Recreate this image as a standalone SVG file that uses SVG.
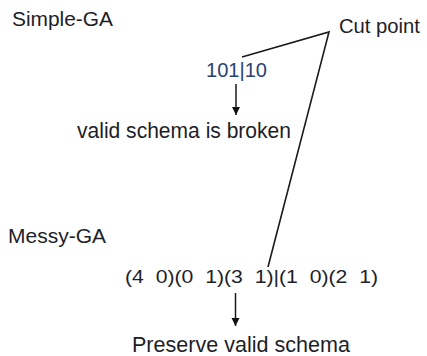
<svg xmlns="http://www.w3.org/2000/svg" width="427" height="356" viewBox="0 0 427 356">
  <style>
    .t { font-family: "Liberation Sans", Arial, sans-serif; fill: #1e1e28; }
    .blue { fill: #2a4170; }
    .ln { stroke: #1a1a1a; stroke-width: 1.6; fill: none; }
    .ar { stroke: #1a1a1a; stroke-width: 1.5; fill: none; }
  </style>
  <defs>
    <marker id="ah" viewBox="0 0 8 10" refX="8" refY="5" markerWidth="8" markerHeight="10" markerUnits="userSpaceOnUse" orient="auto">
      <path d="M0,1 L8,5 L0,9 Z" fill="#111"/>
    </marker>
  </defs>
  <rect width="427" height="356" fill="#ffffff"/>

  <g id="simple-ga-label">
    <text class="t" x="12" y="26" font-size="20" textLength="101" lengthAdjust="spacingAndGlyphs">Simple-GA</text>
  </g>
  <g id="cut-point">
    <text class="t" x="339" y="33" font-size="20" textLength="81" lengthAdjust="spacingAndGlyphs">Cut point</text>
  </g>
  <g id="simple-string">
    <text class="t blue" x="206" y="77" font-size="21" textLength="61" lengthAdjust="spacingAndGlyphs">101|10</text>
  </g>
  <g id="broken">
    <text class="t" x="77" y="138" font-size="21.5" textLength="214" lengthAdjust="spacingAndGlyphs">valid schema is broken</text>
  </g>
  <g id="messy-ga-label">
    <text class="t" x="8" y="243" font-size="20.5" textLength="98" lengthAdjust="spacingAndGlyphs">Messy-GA</text>
  </g>
  <g id="messy-string">
    <text class="t" x="125" y="283" font-size="18.5" xml:space="preserve" style="white-space:pre" textLength="253" lengthAdjust="spacingAndGlyphs">(4  0)(0  1)(3  1)|(1  0)(2  1)</text>
  </g>
  <g id="preserve">
    <text class="t" x="132" y="352" font-size="21.5" textLength="218" lengthAdjust="spacingAndGlyphs">Preserve valid schema</text>
  </g>

  <g id="connectors">
    <polyline class="ln" points="242,57 329,32 268,267"/>
    <line class="ar" x1="236" y1="84" x2="236" y2="115" marker-end="url(#ah)"/>
    <line class="ar" x1="235.5" y1="293" x2="235.5" y2="326" marker-end="url(#ah)"/>
  </g>
</svg>
